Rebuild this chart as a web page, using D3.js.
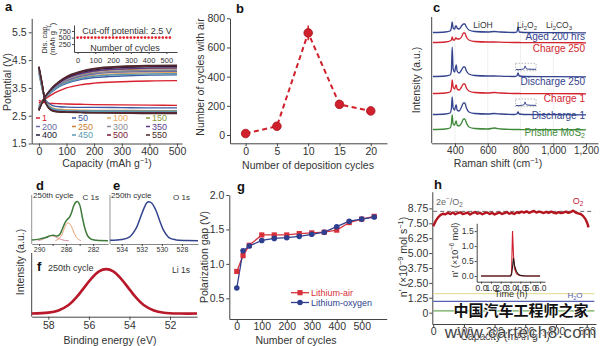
<!DOCTYPE html>
<html>
<head>
<meta charset="utf-8">
<script src="https://cdn.jsdelivr.net/npm/d3@7"></script>
<style>
  body { margin: 0; background: #fff; }
  svg text { font-family: "Liberation Sans", Arial, Helvetica, sans-serif; fill: #333; }
</style>
</head>
<body>
<svg id="fig" width="600" height="346"></svg>
<script>
// ---------- panel a: charge/discharge profiles ----------
const capGrid = [0, 10, 25, 50, 75, 100, 150, 200, 300, 400, 500];
const cycleNames = ["1", "50", "100", "150", "200", "250", "300", "350", "400", "450", "500", "550"];
const cycleColors = ["#d9202e", "#3d5aa6", "#e8a55a", "#8a9a3e", "#6a6aa8", "#c8803a",
                     "#8c8c9a", "#5a3a8a", "#1d1d3a", "#5a9ab0", "#7a1a3a", "#4a2a2a"];
const chargeV = [
  [2.95, 3.02, 3.12, 3.28, 3.40, 3.50, 3.61, 3.67, 3.72, 3.75, 3.76],
  [2.85, 3.00, 3.17, 3.38, 3.55, 3.66, 3.80, 3.87, 3.93, 3.96, 3.97],
  [2.80, 2.98, 3.18, 3.42, 3.60, 3.72, 3.87, 3.95, 4.02, 4.04, 4.05],
  [2.78, 2.97, 3.19, 3.45, 3.63, 3.77, 3.93, 4.02, 4.09, 4.11, 4.12],
  [2.76, 2.96, 3.18, 3.44, 3.62, 3.75, 3.91, 4.00, 4.07, 4.09, 4.10],
  [2.74, 2.95, 3.20, 3.48, 3.67, 3.82, 3.99, 4.09, 4.16, 4.19, 4.20],
  [2.74, 2.95, 3.19, 3.46, 3.65, 3.79, 3.95, 4.04, 4.11, 4.14, 4.15],
  [2.72, 2.94, 3.20, 3.49, 3.69, 3.84, 4.01, 4.11, 4.18, 4.21, 4.22],
  [2.70, 2.93, 3.21, 3.51, 3.72, 3.87, 4.05, 4.15, 4.23, 4.26, 4.27],
  [2.78, 2.96, 3.17, 3.40, 3.57, 3.69, 3.84, 3.92, 3.98, 4.00, 4.01],
  [2.70, 2.93, 3.21, 3.52, 3.73, 3.89, 4.07, 4.18, 4.26, 4.29, 4.30],
  [2.68, 2.92, 3.21, 3.53, 3.75, 3.91, 4.09, 4.20, 4.28, 4.31, 4.32]
];
const dischargeV = [
  [3.05, 3.00, 2.96, 2.94, 2.93, 2.92, 2.91, 2.90, 2.89, 2.88, 2.87],
  [4.05, 3.55, 3.05, 2.86, 2.82, 2.81, 2.80, 2.80, 2.79, 2.78, 2.78],
  [4.15, 3.60, 3.00, 2.78, 2.73, 2.71, 2.70, 2.69, 2.69, 2.68, 2.68],
  [4.18, 3.62, 2.98, 2.74, 2.70, 2.69, 2.68, 2.67, 2.67, 2.66, 2.66],
  [4.20, 3.65, 2.98, 2.73, 2.69, 2.68, 2.67, 2.66, 2.66, 2.65, 2.65],
  [4.22, 3.68, 2.97, 2.71, 2.67, 2.66, 2.65, 2.64, 2.64, 2.63, 2.63],
  [4.22, 3.66, 2.97, 2.72, 2.68, 2.66, 2.66, 2.65, 2.65, 2.64, 2.64],
  [4.24, 3.70, 2.96, 2.70, 2.66, 2.65, 2.64, 2.63, 2.63, 2.62, 2.62],
  [4.25, 3.72, 2.96, 2.68, 2.64, 2.63, 2.62, 2.61, 2.61, 2.60, 2.60],
  [4.18, 3.60, 2.99, 2.75, 2.70, 2.68, 2.67, 2.66, 2.66, 2.65, 2.65],
  [4.26, 3.74, 2.95, 2.68, 2.64, 2.63, 2.62, 2.61, 2.61, 2.60, 2.60],
  [4.27, 3.76, 2.95, 2.67, 2.63, 2.62, 2.61, 2.60, 2.59, 2.58, 2.58]
];
const insetCycles = [0, 20, 40, 60, 80, 100, 120, 140, 160, 180, 200, 220, 240, 260,
                     280, 300, 320, 340, 360, 380, 400, 420, 440, 460, 480, 500, 520];
const insetCap = [500, 500, 500, 500, 500, 500, 500, 500, 500, 500, 500, 500, 500, 500,
                  500, 500, 500, 500, 500, 500, 500, 500, 500, 500, 500, 500, 500];

// ---------- panel b: cycle life vs deposition cycles ----------
const depCycles = [0, 5, 10, 15, 20];
const airCycles = [10, 60, 700, 210, 165];
const airErr = [0, 0, 50, 0, 0];

// ---------- panel c: Raman spectra ----------
const ramanShift = [265, 340, 370, 378, 383, 389, 398, 404, 408, 413, 425, 440, 452, 460,
                    470, 485, 520, 600, 640, 680, 760, 778, 785, 792, 820, 1000, 1200];
const ramanNames = ["Pristine MoS", "Discharge 1", "Charge 1", "Discharge 250", "Charge 250", "Aged 200 hrs"];
const ramanColors = ["#3f8a3a", "#34438e", "#d2232e", "#34438e", "#d2232e", "#34438e"];
const ramanOffset = [13, 28, 49, 66, 100, 110];
const ramanInt = [
  [0.5, 1, 2, 6, 15, 6, 5, 8, 9, 5, 4, 7, 11, 11, 7, 3, 1.5, 1, 2, 1, 0.5, 0.5, 0.5, 0.5, 0.3, 0.3, 0.2],
  [0.5, 1, 2, 6, 18, 7, 5, 9, 10, 5, 4, 8, 12, 12, 7, 3, 1.5, 1, 1.5, 1, 0.5, 1, 3, 1, 0.5, 0.3, 0.2],
  [0.5, 1, 2, 5, 14, 7, 5, 8, 9, 5, 4, 7, 10, 10, 6, 3, 1.5, 1, 1.5, 1, 0.5, 0.5, 0.5, 0.5, 0.3, 0.3, 0.2],
  [0.5, 1, 2, 6, 30, 8, 5, 10, 12, 6, 4, 7, 10, 10, 6, 3, 1.5, 1, 1, 0.8, 0.5, 1, 4, 1, 0.5, 0.3, 0.2],
  [0.5, 1, 2, 3, 6, 3, 3, 5, 5, 4, 4, 6, 10, 10, 6, 3, 1.5, 1, 1, 0.8, 0.5, 0.5, 0.5, 0.5, 0.3, 0.3, 0.2],
  [0.5, 1, 2, 5, 11, 5, 4, 7, 7, 5, 4, 7, 9, 9, 6, 3, 1.5, 1, 1.5, 1, 0.5, 1, 6, 1, 0.5, 0.3, 0.2]
];
// magnified Li2CO3 region shown in the dotted boxes
const zoomShift = [772, 790, 805, 815, 822, 828, 834, 845, 870, 895];
const zoomInt = [1.2, 1.0, 1.4, 1.6, 2.0, 4.8, 2.2, 1.6, 1.4, 1.4];
const zoomBoxes = [{lo: 72.3, hi: 79.7}, {lo: 36.3, hi: 44}];

// ---------- panels d, e, f: XPS ----------
const c1sBE = [291.1, 290, 289, 288.3, 287.9, 287.4, 287, 286.6, 286.2, 285.8, 285.5, 285.2,
               284.9, 284.6, 284.3, 284.0, 283.6, 283.2, 282.8, 282.3, 281.5, 279.8];
const c1sTotal = [0.02, 0.04, 0.08, 0.13, 0.14, 0.12, 0.15, 0.28, 0.45, 0.55, 0.6, 0.72,
                  0.88, 0.98, 1.0, 0.92, 0.6, 0.3, 0.12, 0.04, 0.01, 0.0];
const c1sOrangeBE = [287.6, 287, 286.6, 286.2, 285.9, 285.6, 285.2, 284.8, 284.3, 283.8];
const c1sOrange = [0.0, 0.06, 0.17, 0.34, 0.44, 0.45, 0.36, 0.19, 0.05, 0.0];
const c1sPinkBE = [290.2, 289.4, 288.8, 288.2, 287.6, 287.0, 286.3, 285.6];
const c1sPink = [0.0, 0.04, 0.1, 0.13, 0.1, 0.05, 0.01, 0.0];
const o1sBE = [535.17, 534, 533.2, 532.6, 532.2, 531.8, 531.5, 531.3, 531.0, 530.6, 530.2,
               529.8, 529.3, 528.6, 527.5, 526.4];
const o1sInt = [0.01, 0.03, 0.1, 0.3, 0.55, 0.82, 0.97, 1.0, 0.96, 0.78, 0.5, 0.25, 0.08, 0.02, 0.005, 0.0];
const li1sBE = [58.82, 58, 57.5, 57, 56.6, 56.3, 55.9, 55.5, 55.15, 54.8, 54.4, 54.0, 53.7,
                53.3, 52.8, 52.3, 51.5, 50.67];
const li1sInt = [0.01, 0.03, 0.08, 0.2, 0.38, 0.55, 0.78, 0.95, 1.0, 0.95, 0.78, 0.55, 0.38,
                 0.2, 0.08, 0.03, 0.01, 0.01];

// ---------- panel g: polarization gap ----------
const gapCycles = [0, 25, 50, 100, 150, 200, 250, 300, 350, 400, 450, 500, 550];
const gapAir = [0.89, 1.12, 1.27, 1.42, 1.42, 1.42, 1.44, 1.45, 1.46, 1.49, 1.6, 1.65, 1.69];
const gapOxygen = [0.65, 1.19, 1.26, 1.34, 1.37, 1.38, 1.40, 1.43, 1.46, 1.54, 1.62, 1.65, 1.68];

// ---------- panel h: DEMS gas evolution ----------
const demsCap = [0, 8, 16, 24, 32, 40, 48, 56, 64, 72, 80, 88, 96, 104, 112, 120, 128, 136, 144,
                 152, 160, 168, 176, 184, 192, 200, 208, 216, 224, 232, 240, 248, 256, 264, 272,
                 280, 288, 296, 304, 312, 320, 328, 336, 344, 352, 360, 368, 376, 384, 392, 400,
                 408, 416, 424, 432, 440, 448, 456, 464, 472, 480, 488, 496, 502, 506];
const demsO2 = [7.25, 7.7, 8.0, 8.2, 8.3, 8.25, 8.38, 8.28, 8.4, 8.26, 8.36, 8.42, 8.28, 8.33,
                8.4, 8.24, 8.36, 8.44, 8.3, 8.38, 8.26, 8.35, 8.41, 8.28, 8.38, 8.24, 8.33, 8.4,
                8.28, 8.36, 8.44, 8.3, 8.38, 8.28, 8.43, 8.36, 8.48, 8.4, 8.5, 8.38, 8.46, 8.53,
                8.4, 8.48, 8.44, 8.36, 8.46, 8.38, 8.48, 8.4, 8.33, 8.43, 8.36, 8.4, 8.48, 8.38,
                8.44, 8.56, 8.4, 8.33, 8.28, 8.12, 7.85, 7.5, 7.15];
const demsLines = [{name: "H2O", value: 0.95, color: "#5660b0"},
                   {name: "CO2", value: 1.6, color: "#e8e0a0"},
                   {name: "N2", value: 0.15, color: "#6aaa5a"}];
const theoryO2 = 8.5;
const insetTime = [0, 1, 2, 3, 3.1, 3.2, 3.3, 3.4, 3.6, 3.8, 4, 4.5, 5, 6];
const insetO2 = [0, 0, 0, 0, 0.1, 1.5, 0.7, 0.25, 0.08, 0.03, 0.01, 0, 0, 0];
const insetTotal = [0, 0, 0, 0, 0.05, 0.3, 0.6, 0.35, 0.15, 0.06, 0.02, 0, 0, 0];

// =====================================================================
const svg = d3.select("#fig");
const ink = "#444";

function rich(text, parts) {
  let shift = 0;
  parts.forEach(p => {
    const o = typeof p === "string" ? {t: p} : p;
    const target = o.sup ? -3.6 : o.sub ? 2.4 : 0;
    text.append("tspan")
      .attr("dy", target - shift)
      .style("font-size", (o.sup || o.sub) ? "0.7em" : null)
      .text(o.t);
    shift = target;
  });
  return text;
}

function styleAxis(g, fs) {
  g.attr("font-size", fs);
  g.select(".domain").attr("stroke", ink);
  g.selectAll(".tick line").attr("stroke", ink);
  g.selectAll(".tick text").attr("fill", "#333");
  return g;
}

function panelLabel(x, y, t) {
  svg.append("text").attr("x", x).attr("y", y).text(t)
    .style("font-size", "13px").style("font-weight", "bold").style("fill", "#111");
}

function yTitle(x, y, parts, fs) {
  const t = svg.append("text").attr("transform", `translate(${x},${y}) rotate(-90)`)
    .attr("text-anchor", "middle").style("font-size", fs + "px");
  return rich(t, parts);
}

function xTitle(x, y, parts, fs) {
  const t = svg.append("text").attr("x", x).attr("y", y)
    .attr("text-anchor", "middle").style("font-size", fs + "px");
  return rich(t, parts);
}

// ---------------- panel a ----------------
{
  const x = d3.scaleLinear().domain([-26, 518]).range([31.7, 182]);
  const y = d3.scaleLinear().domain([1.5, 6.0]).range([143.5, 18.4]);
  const g = svg.append("g");

  styleAxis(g.append("g").attr("transform", `translate(0,${y(1.5)})`)
    .call(d3.axisBottom(x).tickValues([0, 100, 200, 300, 400, 500]).tickSize(3).tickPadding(1).tickSizeOuter(0)), 10.5);
  styleAxis(g.append("g").attr("transform", `translate(${x(-26)},0)`)
    .call(d3.axisLeft(y).tickValues([1.5, 2.5, 3.5, 4.5, 5.5]).tickSize(3).tickPadding(2).tickSizeOuter(0)), 10.5);

  const line = d3.line().x((d, i) => x(capGrid[i])).y(d => y(d)).curve(d3.curveMonotoneX);
  cycleNames.forEach((n, k) => {
    g.append("path").attr("d", line(chargeV[k])).attr("fill", "none")
      .attr("stroke", cycleColors[k]).attr("stroke-width", 1.4);
    g.append("path").attr("d", line(dischargeV[k])).attr("fill", "none")
      .attr("stroke", cycleColors[k]).attr("stroke-width", 1.4);
  });

  // legend, 4 columns x 3 rows
  const colX = [36, 72, 107, 146], rowY = [118, 126.5, 135];
  cycleNames.forEach((n, k) => {
    const cx = colX[k % 4], cy = rowY[Math.floor(k / 4)];
    g.append("line").attr("x1", cx).attr("x2", cx + 4).attr("y1", cy).attr("y2", cy)
      .attr("stroke", cycleColors[k]).attr("stroke-width", 1.5);
    g.append("text").attr("x", cx + 6).attr("y", cy + 3.3).text(n)
      .style("font-size", "9px").style("fill", cycleColors[k]);
  });

  // inset: discharge capacity vs cycles
  const ix = d3.scaleLinear().domain([-20, 560]).range([74, 177]);
  const iy = d3.scaleLinear().domain([-50, 980]).range([52, 25]);
  styleAxis(g.append("g").attr("transform", `translate(0,52)`)
    .call(d3.axisBottom(ix).tickValues([0, 100, 200, 300, 400, 500]).tickSize(2).tickPadding(4).tickSizeOuter(0)), 7.5);
  styleAxis(g.append("g").attr("transform", `translate(74,0)`)
    .call(d3.axisLeft(iy).tickValues([250, 500, 750]).tickSize(2).tickPadding(1).tickSizeOuter(0)), 7.5);
  g.selectAll(".capdot").data(insetCycles).enter().append("circle")
    .attr("cx", d => ix(d)).attr("cy", (d, i) => iy(insetCap[i])).attr("r", 1.3)
    .attr("fill", "#e0202a");
  g.append("text").attr("x", 127).attr("y", 33.5).attr("text-anchor", "middle")
    .style("font-size", "9px").text("Cut-off potential: 2.5 V");
  g.append("text").attr("x", 125).attr("y", 50.5).attr("text-anchor", "middle")
    .style("font-size", "9px").text("Number of cycles");
  yTitle(46.5, 39, ["Dis. cap."], 7.5);
  yTitle(54.5, 39, ["(mAh g", {t: "−1", sup: true}, ")"], 7.5);

  panelLabel(5, 11, "a");
  xTitle(107, 167, ["Capacity (mAh g", {t: "−1", sup: true}, ")"], 10.5);
  yTitle(10.5, 82, ["Potential (V)"], 10.5);
}

// ---------------- panel b ----------------
{
  const x = d3.scaleLinear().domain([-2.5, 22.6]).range([230, 387]);
  const y = d3.scaleLinear().domain([-57, 800]).range([143.3, 18.3]);
  const g = svg.append("g");
  styleAxis(g.append("g").attr("transform", `translate(0,${y(-57)})`)
    .call(d3.axisBottom(x).tickValues(depCycles).tickSize(3).tickPadding(1).tickSizeOuter(0)), 10.5);
  styleAxis(g.append("g").attr("transform", `translate(${x(-2.5)},0)`)
    .call(d3.axisLeft(y).tickValues([0, 200, 400, 600, 800]).tickSize(3).tickPadding(2).tickSizeOuter(0)), 10.5);

  const pts = depCycles.map((c, i) => [c, airCycles[i], airErr[i]]);
  g.append("path").attr("d", d3.line().x(d => x(d[0])).y(d => y(d[1]))(pts))
    .attr("fill", "none").attr("stroke", "#d0202c").attr("stroke-width", 2)
    .attr("stroke-dasharray", "5,3.5");
  pts.filter(d => d[2] > 0).forEach(d => {
    g.append("line").attr("x1", x(d[0])).attr("x2", x(d[0]))
      .attr("y1", y(d[1] - d[2])).attr("y2", y(d[1] + d[2]))
      .attr("stroke", "#d0202c").attr("stroke-width", 1.5);
  });
  g.selectAll(".pt").data(pts).enter().append("circle")
    .attr("cx", d => x(d[0])).attr("cy", d => y(d[1])).attr("r", 4.3)
    .attr("fill", "#d0202c").attr("stroke", "#a8141e").attr("stroke-width", 0.8);

  panelLabel(236, 13, "b");
  xTitle(308, 168.5, ["Number of deposition cycles"], 10.5);
  yTitle(204, 77, ["Number of cycles with air"], 10.5);
}

// ---------------- panel c ----------------
{
  const x = d3.scaleLinear().domain([258, 1273]).range([431.7, 598]);
  const y = d3.scaleLinear().domain([0, 130]).range([143, 13]);
  const g = svg.append("g");

  [400, 600, 800, 1000].forEach(v => {
    g.append("line").attr("x1", x(v)).attr("x2", x(v)).attr("y1", 17).attr("y2", 143)
      .attr("stroke", "#ececec").attr("stroke-width", 0.8);
  });

  styleAxis(g.append("g").attr("transform", `translate(0,143.3)`)
    .call(d3.axisBottom(x).tickValues([400, 600, 800, 1000, 1200]).tickFormat(d3.format(","))
      .tickSize(3).tickPadding(1).tickSizeOuter(0)), 10);
  g.append("line").attr("x1", x(258)).attr("x2", x(258)).attr("y1", 17).attr("y2", 143.3)
    .attr("stroke", ink);

  const line = d3.line().x((d, i) => x(ramanShift[i])).curve(d3.curveMonotoneX);
  ramanInt.forEach((row, k) => {
    g.append("path").attr("d", line.y(d => y(d + ramanOffset[k]))(row))
      .attr("fill", "none").attr("stroke", ramanColors[k]).attr("stroke-width", 1.3);
  });

  // dotted boxes with magnified Li2CO3 region
  zoomBoxes.forEach(b => {
    g.append("rect").attr("x", x(770)).attr("y", y(b.hi))
      .attr("width", x(895) - x(770)).attr("height", y(b.lo) - y(b.hi))
      .attr("fill", "none").attr("stroke", "#999").attr("stroke-width", 0.7)
      .attr("stroke-dasharray", "1.5,1.5");
    const zl = d3.line().x((d, i) => x(zoomShift[i])).y(d => y(b.lo + d)).curve(d3.curveMonotoneX);
    g.append("path").attr("d", zl(zoomInt)).attr("fill", "none")
      .attr("stroke", "#34438e").attr("stroke-width", 1);
  });

  const labY = [135.5, 119, 101.5, 85, 51.5, 39.5];
  ramanNames.forEach((n, k) => {
    const t = g.append("text").attr("x", 585).attr("y", labY[k]).attr("text-anchor", "end")
      .style("font-size", "10px").style("fill", ramanColors[k]);
    if (k === 0) rich(t, [n, {t: "2", sub: true}]); else t.text(n);
  });
  g.append("text").attr("x", 483).attr("y", 28).attr("text-anchor", "middle")
    .style("font-size", "8.5px").text("LiOH");
  rich(g.append("text").attr("x", 527).attr("y", 28).attr("text-anchor", "middle")
    .style("font-size", "8.5px"), ["Li", {t: "2", sub: true}, "O", {t: "2", sub: true}]);
  rich(g.append("text").attr("x", 559).attr("y", 28).attr("text-anchor", "middle")
    .style("font-size", "8.5px"), ["Li", {t: "2", sub: true}, "CO", {t: "3", sub: true}]);

  panelLabel(433, 12, "c");
  xTitle(498, 167, ["Raman shift (cm", {t: "−1", sup: true}, ")"], 10.5);
  yTitle(420, 80, ["Intensity (a.u.)"], 10.5);
}

// ---------------- panels d, e ----------------
{
  const y = d3.scaleLinear().domain([-0.085, 1.17]).range([244, 195]);
  const g = svg.append("g");

  const dx = d3.scaleLinear().domain([291.1, 279.8]).range([31.7, 108]);
  const ex = d3.scaleLinear().domain([535.17, 526.4]).range([110, 198]);

  styleAxis(g.append("g").attr("transform", `translate(0,244)`)
    .call(d3.axisBottom(dx).tickValues([290, 288, 286, 284, 282])
      .tickFormat(d => d % 4 === 2 ? d : "").tickSize(2).tickPadding(1).tickSizeOuter(0)), 7);
  styleAxis(g.append("g").attr("transform", `translate(0,244)`)
    .call(d3.axisBottom(ex).tickValues([534, 532, 530, 528]).tickSize(2).tickPadding(1).tickSizeOuter(0)), 7);
  [[dx(291.1)], [ex(535.17)]].forEach(([px]) => {
    g.append("line").attr("x1", px).attr("x2", px).attr("y1", 195).attr("y2", 244)
      .attr("stroke", "#888").attr("stroke-width", 0.9);
  });
  g.selectAll(".domain").attr("stroke", "#888");

  const curve = (sx, xs) => d3.line().x((d, i) => sx(xs[i])).y(d => y(d)).curve(d3.curveCatmullRom);
  g.append("path").attr("d", curve(dx, c1sPinkBE)(c1sPink)).attr("fill", "none")
    .attr("stroke", "#d88aa0").attr("stroke-width", 1);
  g.append("path").attr("d", curve(dx, c1sOrangeBE)(c1sOrange)).attr("fill", "none")
    .attr("stroke", "#e8a070").attr("stroke-width", 1);
  g.append("path").attr("d", curve(dx, c1sBE)(c1sTotal)).attr("fill", "none")
    .attr("stroke", "#3f7a3a").attr("stroke-width", 1.5);
  g.append("path").attr("d", curve(ex, o1sBE)(o1sInt)).attr("fill", "none")
    .attr("stroke", "#34438e").attr("stroke-width", 1.5);

  [["250th cycle", 33, 197.5, "start"], ["C 1s", 99, 199.5, "end"],
   ["250th cycle", 111, 197.5, "start"], ["O 1s", 190, 199.5, "end"]].forEach(([t, x, yy, a]) => {
    g.append("text").attr("x", x).attr("y", yy).attr("text-anchor", a)
      .style("font-size", "8px").text(t);
  });
  panelLabel(36, 190, "d");
  panelLabel(113, 190, "e");
}

// ---------------- panel f ----------------
{
  const x = d3.scaleLinear().domain([58.82, 50.67]).range([31.7, 197]);
  const y = d3.scaleLinear().domain([-0.06, 1.36]).range([316.7, 253]);
  const g = svg.append("g");
  styleAxis(g.append("g").attr("transform", `translate(0,316.7)`)
    .call(d3.axisBottom(x).tickValues([58, 56, 54, 52]).tickSize(3).tickPadding(2).tickSizeOuter(0)), 10.5);
  g.append("line").attr("x1", 31.7).attr("x2", 31.7).attr("y1", 253).attr("y2", 316.7).attr("stroke", ink);

  g.append("path").attr("d", d3.line().x((d, i) => x(li1sBE[i])).y(d => y(d)).curve(d3.curveCatmullRom)(li1sInt))
    .attr("fill", "none").attr("stroke", "#b8182a").attr("stroke-width", 2.6);

  panelLabel(37, 271, "f");
  g.append("text").attr("x", 48).attr("y", 271).style("font-size", "9px").text("250th cycle");
  g.append("text").attr("x", 190).attr("y", 273).attr("text-anchor", "end").style("font-size", "8.5px").text("Li 1s");
  xTitle(110, 344, ["Binding energy (eV)"], 10.5);
  yTitle(24, 262, ["Intensity (a.u.)"], 10.5);
}

// ---------------- panel g ----------------
{
  const x = d3.scaleLinear().domain([-30, 600]).range([229.3, 386.7]);
  const y = d3.scaleLinear().domain([0.2, 2.0]).range([319, 195]);
  const g = svg.append("g");
  styleAxis(g.append("g").attr("transform", `translate(0,319)`)
    .call(d3.axisBottom(x).tickValues([0, 100, 200, 300, 400, 500]).tickSize(3).tickPadding(1).tickSizeOuter(0)), 10.5);
  styleAxis(g.append("g").attr("transform", `translate(229.3,0)`)
    .call(d3.axisLeft(y).tickValues([0.5, 1.0, 1.5, 2.0]).tickFormat(d3.format(".1f"))
      .tickSize(3).tickPadding(2).tickSizeOuter(0)), 10.5);

  const line = d3.line().x((d, i) => x(gapCycles[i])).y(d => y(d));
  g.append("path").attr("d", line(gapAir)).attr("fill", "none").attr("stroke", "#d8303a").attr("stroke-width", 1.3);
  g.append("path").attr("d", line(gapOxygen)).attr("fill", "none").attr("stroke", "#2f3f8f").attr("stroke-width", 1.3);
  g.selectAll(".sq").data(gapAir).enter().append("rect")
    .attr("x", (d, i) => x(gapCycles[i]) - 2.6).attr("y", d => y(d) - 2.6)
    .attr("width", 5.2).attr("height", 5.2).attr("fill", "#d8303a");
  g.selectAll(".ci").data(gapOxygen).enter().append("circle")
    .attr("cx", (d, i) => x(gapCycles[i])).attr("cy", d => y(d)).attr("r", 2.8).attr("fill", "#2f3f8f");

  // legend
  [["Lithium-air", "#d8303a", 292.7, "sq"], ["Lithium-oxygen", "#2f3f8f", 302.5, "ci"]].forEach(([n, c, yy, m]) => {
    g.append("line").attr("x1", 291).attr("x2", 309).attr("y1", yy).attr("y2", yy).attr("stroke", c).attr("stroke-width", 1.3);
    if (m === "sq") g.append("rect").attr("x", 297.4).attr("y", yy - 2.6).attr("width", 5.2).attr("height", 5.2).attr("fill", c);
    else g.append("circle").attr("cx", 300).attr("cy", yy).attr("r", 2.8).attr("fill", c);
    g.append("text").attr("x", 311).attr("y", yy + 3.2).style("font-size", "9px").style("fill", c).text(n);
  });

  panelLabel(237, 191, "g");
  xTitle(296, 343.5, ["Number of cycles"], 10.5);
  yTitle(207.5, 257, ["Polarization gap (V)"], 10.5);
}

// ---------------- panel h ----------------
{
  const x = d3.scaleLinear().domain([-3, 530]).range([432.3, 595.9]);
  const y = d3.scaleLinear().domain([-0.95, 10.15]).range([324, 191.7]);
  const g = svg.append("g");
  styleAxis(g.append("g").attr("transform", `translate(0,324)`)
    .call(d3.axisBottom(x).tickValues([0, 100, 200, 300, 400, 500]).tickSize(3).tickPadding(1).tickSizeOuter(0)), 10.5);
  styleAxis(g.append("g").attr("transform", `translate(432.3,0)`)
    .call(d3.axisLeft(y).tickValues([0, 1.25, 2.5, 3.75, 5, 6.25, 7.5, 8.75])
      .tickFormat(d => d === 0 ? "0" : d3.format(".2f")(d)).tickSize(3).tickPadding(1).tickSizeOuter(0)), 10.5);

  demsLines.forEach(l => {
    g.append("line").attr("x1", x(0)).attr("x2", x(525)).attr("y1", y(l.value)).attr("y2", y(l.value))
      .attr("stroke", l.color).attr("stroke-width", 1.2);
  });
  g.append("line").attr("x1", x(0)).attr("x2", x(525)).attr("y1", y(theoryO2)).attr("y2", y(theoryO2))
    .attr("stroke", "#555").attr("stroke-width", 0.9).attr("stroke-dasharray", "4,3");
  g.append("path").attr("d", d3.line().x((d, i) => x(demsCap[i])).y(d => y(d))(demsO2))
    .attr("fill", "none").attr("stroke", "#b3141e").attr("stroke-width", 2.4).attr("stroke-linejoin", "round");

  rich(g.append("text").attr("x", 436).attr("y", 204.5).style("font-size", "9px").style("fill", "#666"),
    ["2e", {t: "−", sup: true}, "/O", {t: "2", sub: true}]);
  rich(g.append("text").attr("x", 578).attr("y", 203.5).attr("text-anchor", "middle").style("font-size", "9px").style("fill", "#c02030"),
    ["O", {t: "2", sub: true}]);
  rich(g.append("text").attr("x", 575).attr("y", 297.5).attr("text-anchor", "middle").style("font-size", "8px").style("fill", "#5660b0"),
    ["H", {t: "2", sub: true}, "O"]);

  // inset: integrated gas amount vs time
  const ix = d3.scaleLinear().domain([-0.44, 6.5]).range([476.7, 545]);
  const iy = d3.scaleLinear().domain([-0.19, 1.76]).range([281.7, 223.3]);
  styleAxis(g.append("g").attr("transform", `translate(0,281.7)`)
    .call(d3.axisBottom(ix).tickValues([0, 1, 2, 3, 4, 5, 6]).tickSize(2).tickPadding(1).tickSizeOuter(0)), 8.5);
  styleAxis(g.append("g").attr("transform", `translate(476.7,0)`)
    .call(d3.axisLeft(iy).tickValues([0, 0.5, 1.0, 1.5]).tickFormat(d3.format(".1f")).tickSize(2).tickPadding(1).tickSizeOuter(0)), 8.5);
  const il = d3.line().x((d, i) => ix(insetTime[i])).y(d => iy(d));
  g.append("path").attr("d", il(insetO2)).attr("fill", "none").attr("stroke", "#d02030").attr("stroke-width", 1.1);
  g.append("path").attr("d", il(insetTotal)).attr("fill", "none").attr("stroke", "#2a1a1a").attr("stroke-width", 1.1);
  xTitle(511, 297, ["Time (h)"], 9);
  yTitle(458, 250, ["n' (×10", {t: "−6", sup: true}, " mol)"], 9);

  panelLabel(434, 189, "h");
  xTitle(505, 340, ["Capacity (mAh g", {t: "−1", sup: true}, ")"], 10.5);
  yTitle(407, 257, ["n' (×10", {t: "−9", sup: true}, " mol s", {t: "−1", sup: true}, ")"], 10.5);

  // site watermark printed over the lower right corner
  svg.append("text").attr("x", 521).attr("y", 316).attr("text-anchor", "middle")
    .style("font-family", "'Noto Sans CJK SC', sans-serif").style("font-weight", "bold")
    .style("font-size", "15px").style("fill", "#111").style("stroke", "#fff").style("stroke-width", 1.5)
    .style("paint-order", "stroke").text("中国汽车工程师之家");
  svg.append("text").attr("x", 521).attr("y", 338).attr("text-anchor", "middle")
    .style("font-size", "17px").style("letter-spacing", "0.6px").style("fill", "#444")
    .style("stroke", "#fff").style("stroke-width", 1)
    .style("paint-order", "stroke").text("www.cartech8.com");
}
</script>
</body>
</html>
